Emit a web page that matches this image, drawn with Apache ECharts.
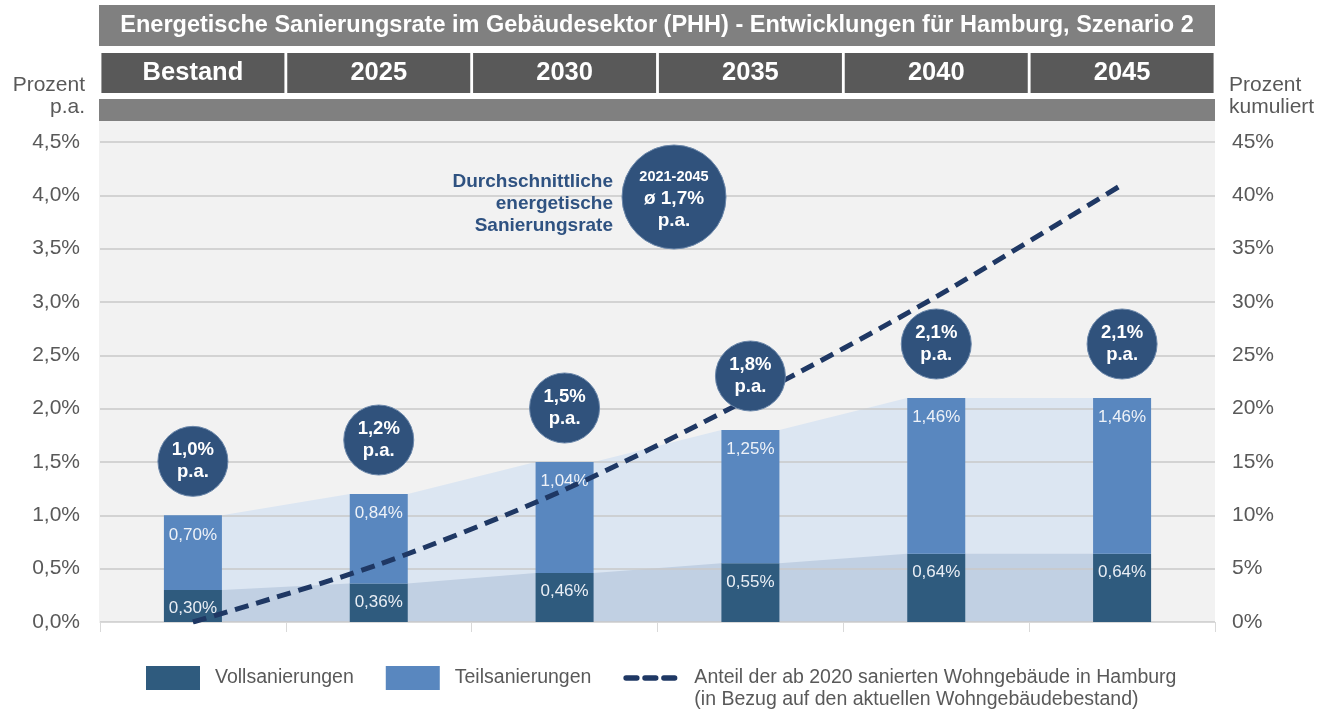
<!DOCTYPE html>
<html>
<head>
<meta charset="utf-8">
<script src="https://cdn.jsdelivr.net/npm/echarts/dist/echarts.min.js"></script>
<style>
	html, body { margin: 0; padding: 0; background: #fff; }
	#chart { width: 1319px; height: 711px; }
</style>
</head>
<body>
<div id="chart"></div>
<script>
	// Daten
	var years = ['Bestand', '2025', '2030', '2035', '2040', '2045']
	var vollData = [0.30, 0.36, 0.46, 0.55, 0.64, 0.64]
	var teilData = [0.70, 0.84, 1.04, 1.25, 1.46, 1.46]
	var totalData = [1.0, 1.2, 1.5, 1.8, 2.1, 2.1]
	var kumuliertData = [0, 5.4, 12.4, 21.0, 30.5, 41.0]
	var leftTicks = [0, 0.5, 1.0, 1.5, 2.0, 2.5, 3.0, 3.5, 4.0, 4.5]
	var rightTicks = [0, 5, 10, 15, 20, 25, 30, 35, 40, 45]
	var avgPeriod = '2021-2045'
	var avgRate = 1.7

	var titleText = 'Energetische Sanierungsrate im Gebäudesektor (PHH) - Entwicklungen für Hamburg, Szenario 2'
	var lineName = 'Anteil der ab 2020 sanierten Wohngebäude in Hamburg'
	var lineName2 = '(in Bezug auf den aktuellen Wohngebäudebestand)'

	var fontFam = '"Liberation Sans", Arial, sans-serif'
	var grey = '#595959'
	var navy = '#30527c'
	var halfBar = 0.156 // halbe Balkenbreite in Kategorie-Einheiten
	// gestricheltes Legendensymbol
	var dashIcon = 'path://M3,0H15A3,3 0 0 1 15,6H3A3,3 0 0 1 3,0Z M24,0H36A3,3 0 0 1 36,6H24A3,3 0 0 1 24,0Z M45,0H57A3,3 0 0 1 57,6H45A3,3 0 0 1 45,0Z'

	function de(v, d) {
		return v.toFixed(d).replace('.', ',')
	}

	// Flächen zwischen den Balkenkanten
	function edgePoints(arr) {
		var pts = []
		arr.forEach(function (v, i) {
			pts.push([i - halfBar, v])
			pts.push([i + halfBar, v])
		})
		return pts
	}

	var myChart = echarts.init(document.getElementById('chart'))

	var option = {
		animation: false,
		textStyle: { fontFamily: fontFam },
		grid: {
			left: 100,
			right: 104,
			top: 142,
			bottom: 89
		},
		legend: {
			left: 141,
			top: 640,
			itemWidth: 54,
			itemHeight: 24,
			itemGap: 32,
			textStyle: {
				color: grey,
				fontSize: 19.5,
				lineHeight: 22,
				fontFamily: fontFam,
				padding: [0, 0, 0, 10]
			},
			// Leerzeile davor, damit die erste Zeile mittig zum Symbol steht
			formatter: function (name) {
				return name === lineName ? '\n' + name + '\n' + lineName2 : name
			},
			data: [
				{ name: 'Vollsanierungen', icon: 'rect' },
				{ name: 'Teilsanierungen', icon: 'rect' },
				{ name: lineName, icon: dashIcon, textStyle: { padding: [0, 0, 0, 12], lineHeight: 22 } }
			]
		},
		xAxis: [{
			type: 'category',
			data: years,
			position: 'bottom',
			axisLine: { lineStyle: { color: '#d9d9d9', width: 1 } },
			axisTick: { show: true, length: 10, lineStyle: { color: '#d9d9d9' } },
			axisLabel: { show: false },
			splitLine: { show: false }
		}, {
			type: 'category',
			data: years,
			position: 'top',
			offset: 49,
			axisLine: { show: false },
			axisTick: { show: false },
			axisLabel: {
				margin: 0,
				color: '#fff',
				fontSize: 25.5,
				fontWeight: 'bold',
				fontFamily: fontFam,
				backgroundColor: '#595959',
				width: 183,
				height: 40,
				lineHeight: 40,
				align: 'center'
			}
		}, {
			type: 'value',
			min: -0.5,
			max: 5.5,
			show: false
		}],
		yAxis: [{
			type: 'value',
			min: leftTicks[0],
			max: leftTicks[leftTicks.length - 1],
			interval: 0.5,
			axisLine: { show: false },
			axisTick: { show: false },
			axisLabel: {
				color: grey,
				fontSize: 21,
				margin: 20,
				fontFamily: fontFam,
				formatter: function (v) { return de(v, 1) + '%' }
			},
			splitLine: { lineStyle: { color: '#c8c8c8', width: 1.5 } }
		}, {
			type: 'value',
			min: rightTicks[0],
			max: rightTicks[rightTicks.length - 1],
			interval: 5,
			axisLine: { show: false },
			axisTick: { show: false },
			axisLabel: {
				color: grey,
				fontSize: 21,
				margin: 17,
				fontFamily: fontFam,
				formatter: function (v) { return v + '%' }
			},
			splitLine: { show: false }
		}],
		series: [{
			name: 'flaeche-gesamt',
			type: 'line',
			xAxisIndex: 2,
			yAxisIndex: 0,
			data: edgePoints(totalData),
			symbol: 'none',
			lineStyle: { width: 0 },
			areaStyle: { color: '#dce6f2', opacity: 1 },
			z: -1,
			silent: true
		}, {
			name: 'flaeche-voll',
			type: 'line',
			xAxisIndex: 2,
			yAxisIndex: 0,
			data: edgePoints(vollData),
			symbol: 'none',
			lineStyle: { width: 0 },
			areaStyle: { color: '#c1d0e3', opacity: 1 },
			z: -1,
			silent: true
		}, {
			name: 'Vollsanierungen',
			type: 'bar',
			stack: 'rate',
			barWidth: 58,
			data: vollData,
			itemStyle: { color: '#2f5b7e' },
			label: {
				show: true,
				position: 'insideTop',
				distance: 10,
				color: '#e9eef5',
				fontSize: 17,
				fontFamily: fontFam,
				formatter: function (p) { return de(p.value, 2) + '%' }
			},
			z: 2
		}, {
			name: 'Teilsanierungen',
			type: 'bar',
			stack: 'rate',
			barWidth: 58,
			data: teilData,
			itemStyle: { color: '#5987bf' },
			label: {
				show: true,
				position: 'insideTop',
				distance: 11,
				color: '#eef2f8',
				fontSize: 17,
				fontFamily: fontFam,
				formatter: function (p) { return de(p.value, 2) + '%' }
			},
			z: 2
		}, {
			name: lineName,
			type: 'line',
			xAxisIndex: 0,
			yAxisIndex: 1,
			data: kumuliertData,
			smooth: 0.3,
			symbol: 'none',
			lineStyle: { color: '#1f3864', width: 5, type: [14, 8] },
			itemStyle: { color: '#1f3864' },
			z: 4
		}, {
			name: 'blasen',
			type: 'scatter',
			xAxisIndex: 0,
			yAxisIndex: 0,
			data: totalData,
			symbolSize: 70,
			symbolOffset: [0, -54],
			itemStyle: { color: navy, borderColor: '#6b87aa', borderWidth: 1, opacity: 1 },
			label: {
				show: true,
				position: 'inside',
				formatter: function (p) { return '{a|' + de(p.value, 1) + '%}\n{a|p.a.}' },
				rich: {
					a: { color: '#fff', fontSize: 18.5, fontWeight: 'bold', lineHeight: 22, fontFamily: fontFam }
				}
			},
			z: 5,
			silent: true
		}],
		graphic: {
			elements: [{
				type: 'rect',
				shape: { x: 99, y: 121, width: 1116, height: 501 },
				style: { fill: '#f2f2f2' },
				z: -10,
				silent: true
			}, {
				type: 'rect',
				shape: { x: 99, y: 5, width: 1116, height: 41 },
				style: { fill: '#808080' },
				z: -10,
				silent: true
			}, {
				type: 'rect',
				shape: { x: 99, y: 99, width: 1116, height: 22 },
				style: { fill: '#808080' },
				z: -10,
				silent: true
			}, {
				type: 'text',
				x: 657,
				y: 26,
				style: {
					text: titleText,
					fill: '#fff',
					font: 'bold 23.5px ' + fontFam,
					align: 'center',
					verticalAlign: 'middle'
				},
				z: 10
			}, {
				// Achsentitel links
				type: 'text',
				x: 85,
				y: 96,
				style: {
					text: 'Prozent\np.a.',
					fill: grey,
					font: '21px ' + fontFam,
					lineHeight: 22,
					align: 'right',
					verticalAlign: 'middle'
				}
			}, {
				// Achsentitel rechts
				type: 'text',
				x: 1229,
				y: 96,
				style: {
					text: 'Prozent\nkumuliert',
					fill: grey,
					font: '21px ' + fontFam,
					lineHeight: 22,
					align: 'left',
					verticalAlign: 'middle'
				}
			}, {
				type: 'circle',
				shape: { cx: 674, cy: 197, r: 52 },
				style: { fill: navy, stroke: '#6b87aa', lineWidth: 1 },
				z: 10
			}, {
				type: 'text',
				x: 674,
				y: 199,
				style: {
					text: '{s|' + avgPeriod + '}\n{b|ø ' + de(avgRate, 1) + '%}\n{b|p.a.}',
					align: 'center',
					verticalAlign: 'middle',
					rich: {
						s: { fill: '#fff', font: 'bold 14.5px ' + fontFam, lineHeight: 22 },
						b: { fill: '#fff', font: 'bold 19px ' + fontFam, lineHeight: 22 }
					}
				},
				z: 11
			}, {
				type: 'text',
				x: 613,
				y: 204,
				style: {
					text: 'Durchschnittliche\nenergetische\nSanierungsrate',
					fill: '#2f5281',
					font: 'bold 19px ' + fontFam,
					lineHeight: 22,
					align: 'right',
					verticalAlign: 'middle'
				},
				z: 10
			}]
		}
	}

	myChart.setOption(option, true)
</script>
</body>
</html>
